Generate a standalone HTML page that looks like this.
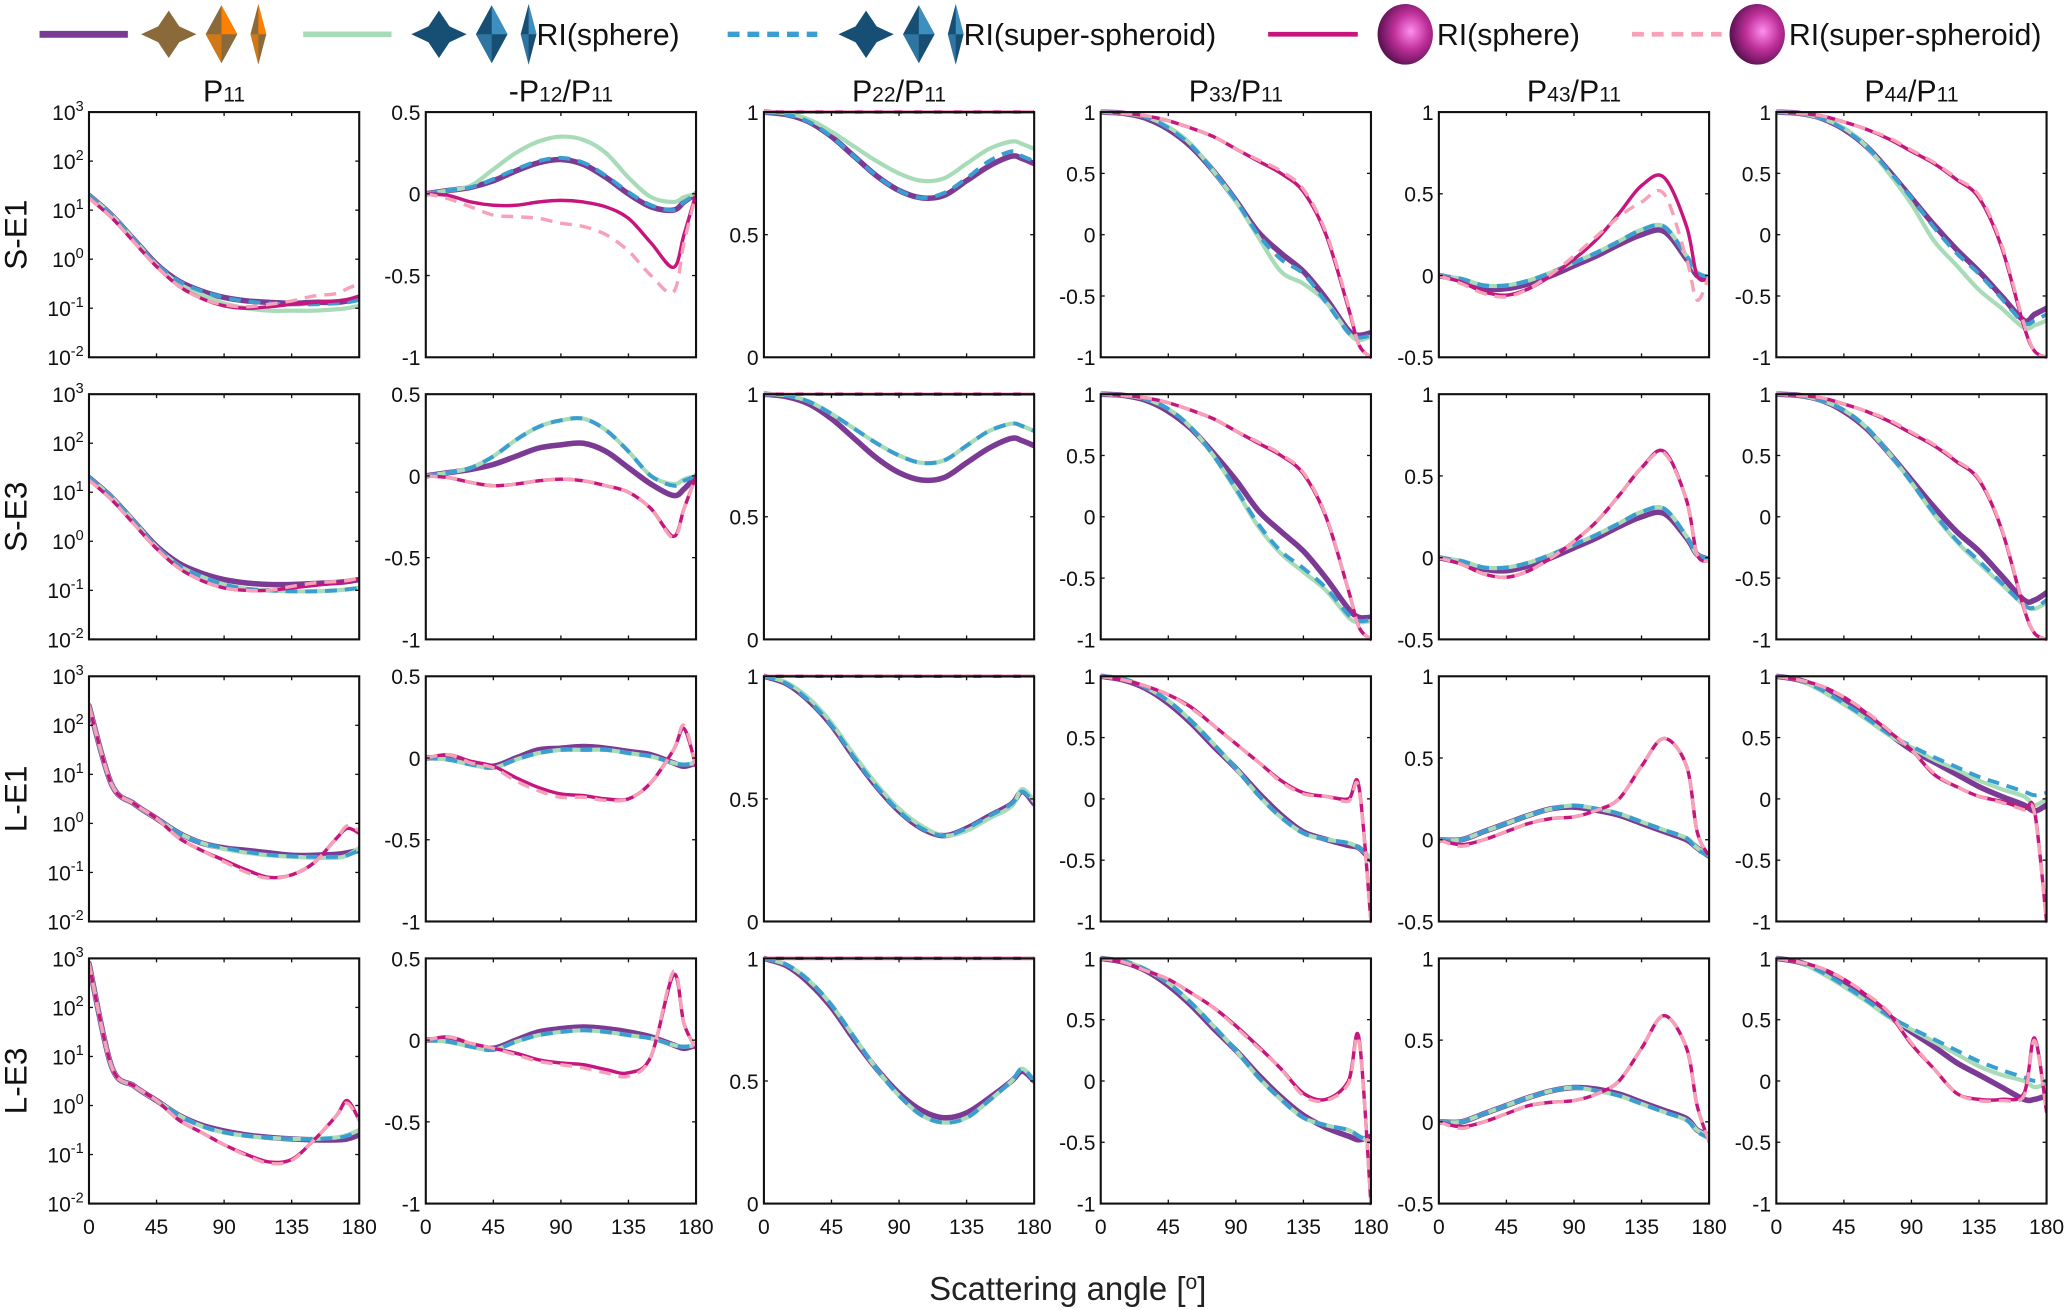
<!DOCTYPE html>
<html><head><meta charset="utf-8"><style>
html,body{margin:0;padding:0;background:#fff;}
svg{display:block;font-family:"Liberation Sans",sans-serif;}
</style></head><body>
<svg id="chart" width="2067" height="1310" viewBox="0 0 1568 993.7" xmlns="http://www.w3.org/2000/svg">
<g id="legend"></g>
<g id="panels"></g>
<text x="810" y="986" font-size="25" text-anchor="middle" fill="#222">Scattering angle [<tspan baseline-shift="super" font-size="16">o</tspan>]</text>
</svg>
<script>
const angles=[0,15,30,45,60,75,90,105,120,135,150,165,172,180];
const rowLabels=["S-E1","S-E3","L-E1","L-E3"];
const xTicks=[0,45,90,135,180];
// P11 (log10 values)
const P11_purple=[[1.3,0.9,0.4,-0.1,-0.45,-0.65,-0.78,-0.85,-0.88,-0.9,-0.88,-0.88,-0.85,-0.8],[1.3,0.9,0.4,-0.1,-0.45,-0.65,-0.78,-0.85,-0.88,-0.88,-0.86,-0.84,-0.82,-0.78],[2.4,0.8,0.4,0.1,-0.2,-0.4,-0.5,-0.55,-0.6,-0.65,-0.65,-0.63,-0.6,-0.55],[2.9,0.8,0.4,0.1,-0.2,-0.4,-0.52,-0.6,-0.65,-0.68,-0.7,-0.7,-0.68,-0.6]];
const P11_green=[[1.3,0.9,0.4,-0.12,-0.5,-0.72,-0.9,-1.0,-1.05,-1.05,-1.05,-1.02,-1.0,-0.95],[1.3,0.9,0.4,-0.12,-0.5,-0.72,-0.88,-0.97,-1.0,-1.02,-1.02,-1.0,-0.98,-0.95],[2.4,0.8,0.4,0.1,-0.2,-0.4,-0.52,-0.6,-0.65,-0.68,-0.7,-0.7,-0.65,-0.5],[2.9,0.8,0.4,0.1,-0.2,-0.42,-0.55,-0.62,-0.66,-0.68,-0.68,-0.65,-0.6,-0.5]];
const P11_blue=[[1.3,0.9,0.4,-0.1,-0.45,-0.65,-0.78,-0.86,-0.9,-0.92,-0.92,-0.9,-0.88,-0.83],[1.3,0.9,0.4,-0.12,-0.5,-0.72,-0.88,-0.97,-1.0,-1.02,-1.02,-1.0,-0.98,-0.95],[2.4,0.8,0.4,0.1,-0.2,-0.4,-0.5,-0.58,-0.64,-0.67,-0.68,-0.68,-0.65,-0.55],[2.9,0.8,0.4,0.1,-0.2,-0.42,-0.55,-0.62,-0.66,-0.68,-0.68,-0.66,-0.62,-0.52]];
const P11_magenta=[[1.25,0.85,0.35,-0.15,-0.55,-0.8,-0.95,-1.0,-0.97,-0.92,-0.88,-0.85,-0.82,-0.75],[1.25,0.85,0.35,-0.15,-0.55,-0.8,-0.95,-1.0,-1.0,-0.95,-0.9,-0.85,-0.82,-0.78],[2.4,0.8,0.4,0.1,-0.3,-0.55,-0.75,-0.95,-1.1,-1.05,-0.8,-0.3,-0.1,-0.2],[2.9,0.8,0.4,0.1,-0.3,-0.55,-0.8,-1.0,-1.15,-1.1,-0.7,-0.2,0.1,-0.3]];
const P11_pink=[[1.25,0.85,0.35,-0.15,-0.55,-0.8,-0.93,-0.97,-0.92,-0.85,-0.75,-0.7,-0.6,-0.5],[1.25,0.85,0.35,-0.15,-0.55,-0.8,-0.95,-1.0,-1.0,-0.92,-0.85,-0.82,-0.8,-0.75],[2.4,0.8,0.4,0.1,-0.3,-0.55,-0.78,-1.0,-1.12,-1.05,-0.8,-0.3,-0.05,-0.15],[2.9,0.8,0.4,0.1,-0.3,-0.55,-0.8,-1.02,-1.18,-1.12,-0.7,-0.2,0.05,-0.3]];
// -P12/P11
const P12_purple=[[0,0.02,0.04,0.08,0.14,0.19,0.21,0.18,0.1,0,-0.08,-0.1,-0.05,0],[0,0.02,0.04,0.07,0.12,0.17,0.19,0.2,0.15,0.05,-0.05,-0.12,-0.08,0],[0,0,-0.03,-0.05,0,0.05,0.06,0.07,0.06,0.04,0.02,-0.03,-0.05,-0.03],[0,0,-0.03,-0.05,0,0.05,0.07,0.08,0.07,0.05,0.02,-0.03,-0.05,-0.03]];
const P12_green=[[0,0.02,0.05,0.15,0.25,0.32,0.35,0.33,0.25,0.1,-0.02,-0.05,-0.02,0],[0,0.02,0.05,0.12,0.22,0.3,0.34,0.35,0.28,0.15,0,-0.05,-0.02,0],[0,-0.01,-0.04,-0.06,-0.01,0.03,0.05,0.05,0.05,0.03,0.01,-0.03,-0.04,-0.03],[0,-0.01,-0.04,-0.06,-0.01,0.03,0.05,0.06,0.05,0.03,0.01,-0.03,-0.04,-0.03]];
const P12_blue=[[0,0.02,0.04,0.09,0.15,0.2,0.22,0.19,0.11,0.01,-0.07,-0.1,-0.05,0],[0,0.02,0.05,0.12,0.22,0.3,0.34,0.35,0.28,0.15,0,-0.06,-0.03,0],[0,-0.01,-0.04,-0.06,-0.01,0.03,0.05,0.05,0.05,0.03,0.01,-0.03,-0.04,-0.03],[0,-0.01,-0.04,-0.06,-0.01,0.03,0.05,0.06,0.05,0.03,0.01,-0.03,-0.04,-0.03]];
const P12_magenta=[[0,-0.01,-0.05,-0.07,-0.07,-0.05,-0.04,-0.05,-0.08,-0.15,-0.3,-0.45,-0.25,0],[0,-0.01,-0.04,-0.06,-0.05,-0.03,-0.02,-0.03,-0.06,-0.1,-0.2,-0.37,-0.2,0],[0,0.02,-0.02,-0.05,-0.12,-0.18,-0.22,-0.23,-0.25,-0.25,-0.15,0.05,0.18,-0.05],[0,0.02,-0.02,-0.05,-0.08,-0.12,-0.14,-0.15,-0.18,-0.2,-0.1,0.4,0.1,-0.05]];
const P12_pink=[[0,-0.03,-0.08,-0.13,-0.14,-0.15,-0.18,-0.2,-0.25,-0.35,-0.5,-0.6,-0.3,0],[0,-0.01,-0.04,-0.06,-0.05,-0.03,-0.02,-0.03,-0.06,-0.1,-0.2,-0.38,-0.2,0],[0,0.02,-0.03,-0.06,-0.14,-0.2,-0.24,-0.24,-0.26,-0.25,-0.15,0.05,0.2,-0.05],[0,0.02,-0.02,-0.05,-0.09,-0.13,-0.15,-0.17,-0.2,-0.22,-0.1,0.42,0.1,-0.05]];
// P22/P11
const P22_purple=[[1,0.99,0.96,0.9,0.82,0.74,0.68,0.65,0.66,0.72,0.78,0.82,0.81,0.79],[1,0.99,0.96,0.9,0.82,0.74,0.68,0.65,0.66,0.72,0.78,0.82,0.81,0.79],[1,0.97,0.9,0.8,0.67,0.55,0.45,0.38,0.35,0.38,0.43,0.48,0.53,0.48],[1,0.97,0.9,0.8,0.67,0.55,0.45,0.38,0.35,0.37,0.43,0.5,0.54,0.5]];
const P22_green=[[1,0.995,0.97,0.92,0.86,0.8,0.75,0.72,0.73,0.79,0.85,0.88,0.87,0.85],[1,0.995,0.97,0.92,0.86,0.8,0.75,0.72,0.73,0.79,0.85,0.88,0.87,0.85],[1,0.975,0.91,0.81,0.68,0.56,0.46,0.39,0.35,0.37,0.42,0.47,0.54,0.49],[1,0.975,0.91,0.81,0.68,0.55,0.44,0.36,0.33,0.35,0.42,0.5,0.55,0.5]];
const P22_blue=[[1,0.99,0.96,0.9,0.82,0.74,0.68,0.65,0.67,0.73,0.8,0.84,0.82,0.8],[1,0.995,0.97,0.92,0.86,0.8,0.75,0.72,0.73,0.79,0.85,0.88,0.87,0.85],[1,0.97,0.9,0.8,0.67,0.55,0.45,0.38,0.35,0.38,0.43,0.48,0.53,0.48],[1,0.975,0.91,0.81,0.68,0.55,0.44,0.36,0.33,0.35,0.42,0.5,0.55,0.5]];
const P22_magenta=[[1,1,1,1,1,1,1,1,1,1,1,1,1,1],[1,1,1,1,1,1,1,1,1,1,1,1,1,1],[1,1,1,1,1,1,1,1,1,1,1,1,1,1],[1,1,1,1,1,1,1,1,1,1,1,1,1,1]];
const P22_pink=[[1,1,1,1,1,1,1,1,1,1,1,1,1,1],[1,1,1,1,1,1,1,1,1,1,1,1,1,1],[1,1,1,1,1,1,1,1,1,1,1,1,1,1],[1,1,1,1,1,1,1,1,1,1,1,1,1,1]];
// P33/P11
const P33_purple=[[1,0.99,0.95,0.86,0.72,0.52,0.28,0.02,-0.15,-0.3,-0.52,-0.78,-0.82,-0.8],[1,0.99,0.95,0.86,0.72,0.52,0.3,0.05,-0.12,-0.28,-0.5,-0.75,-0.82,-0.82],[1,0.97,0.9,0.78,0.62,0.43,0.25,0.05,-0.13,-0.27,-0.33,-0.38,-0.4,-0.5],[1,0.97,0.9,0.78,0.62,0.43,0.25,0.05,-0.13,-0.28,-0.38,-0.45,-0.48,-0.45]];
const P33_green=[[1,0.99,0.96,0.88,0.74,0.52,0.27,-0.02,-0.3,-0.4,-0.55,-0.8,-0.86,-0.83],[1,0.99,0.96,0.88,0.73,0.5,0.22,-0.08,-0.3,-0.45,-0.6,-0.82,-0.86,-0.85],[1,0.98,0.91,0.8,0.64,0.45,0.25,0.03,-0.15,-0.28,-0.33,-0.36,-0.4,-0.48],[1,0.98,0.91,0.8,0.64,0.45,0.25,0.03,-0.15,-0.3,-0.36,-0.4,-0.45,-0.5]];
const P33_blue=[[1,0.99,0.96,0.87,0.73,0.52,0.28,0.0,-0.2,-0.32,-0.55,-0.8,-0.84,-0.82],[1,0.99,0.96,0.88,0.73,0.5,0.23,-0.06,-0.28,-0.42,-0.58,-0.8,-0.85,-0.84],[1,0.98,0.91,0.8,0.64,0.45,0.25,0.03,-0.15,-0.28,-0.33,-0.36,-0.4,-0.48],[1,0.98,0.91,0.8,0.64,0.45,0.25,0.03,-0.15,-0.3,-0.36,-0.4,-0.45,-0.5]];
const P33_magenta=[[1,0.99,0.97,0.93,0.87,0.8,0.7,0.6,0.5,0.35,0.0,-0.6,-0.9,-1],[1,0.99,0.97,0.93,0.87,0.8,0.7,0.6,0.5,0.35,0.0,-0.6,-0.9,-1],[1,0.97,0.92,0.85,0.75,0.6,0.45,0.3,0.15,0.05,0.02,0.0,0.1,-1],[1,0.97,0.9,0.83,0.72,0.6,0.45,0.28,0.1,-0.1,-0.15,0.0,0.35,-1]];
const P33_pink=[[1,0.99,0.97,0.93,0.87,0.8,0.7,0.61,0.52,0.37,0.02,-0.58,-0.9,-1],[1,0.99,0.97,0.93,0.87,0.8,0.7,0.61,0.51,0.36,0.01,-0.6,-0.9,-1],[1,0.97,0.92,0.85,0.74,0.6,0.45,0.3,0.14,0.04,0.02,-0.02,0.08,-1],[1,0.97,0.9,0.83,0.72,0.6,0.44,0.27,0.1,-0.12,-0.16,-0.02,0.33,-1]];
// P43/P11
const P43_purple=[[0,-0.03,-0.08,-0.08,-0.05,0,0.06,0.12,0.19,0.25,0.27,0.1,0,-0.01],[0,-0.03,-0.07,-0.08,-0.05,0,0.06,0.12,0.19,0.25,0.27,0.12,0.02,-0.01],[0,0,0.05,0.1,0.15,0.19,0.2,0.18,0.15,0.1,0.05,0,-0.05,-0.1],[0,0,0.05,0.1,0.15,0.19,0.21,0.2,0.17,0.12,0.07,0.02,-0.05,-0.08]];
const P43_green=[[0,-0.02,-0.06,-0.06,-0.03,0.02,0.08,0.14,0.21,0.28,0.3,0.12,0.02,-0.01],[0,-0.02,-0.06,-0.06,-0.03,0.02,0.08,0.14,0.21,0.28,0.3,0.13,0.02,-0.01],[0,0,0.05,0.1,0.15,0.19,0.21,0.19,0.16,0.11,0.06,0.01,-0.05,-0.09],[0,0,0.05,0.1,0.15,0.19,0.21,0.19,0.16,0.11,0.06,0.01,-0.05,-0.09]];
const P43_blue=[[0,-0.02,-0.06,-0.06,-0.03,0.02,0.08,0.14,0.21,0.28,0.3,0.12,0.02,-0.01],[0,-0.02,-0.06,-0.06,-0.03,0.02,0.08,0.14,0.21,0.28,0.3,0.13,0.02,-0.01],[0,0,0.05,0.1,0.15,0.19,0.21,0.19,0.16,0.11,0.06,0.01,-0.06,-0.1],[0,0,0.05,0.1,0.15,0.19,0.21,0.19,0.16,0.11,0.06,0.01,-0.06,-0.1]];
const P43_magenta=[[0,-0.04,-0.1,-0.12,-0.08,0,0.1,0.22,0.38,0.55,0.6,0.3,0,-0.02],[0,-0.04,-0.1,-0.12,-0.08,0,0.1,0.22,0.38,0.55,0.65,0.35,0.02,-0.02],[0,-0.03,0,0.05,0.1,0.13,0.14,0.18,0.25,0.45,0.62,0.45,0.05,-0.1],[0,-0.03,0,0.05,0.1,0.12,0.13,0.17,0.25,0.45,0.65,0.45,0.1,-0.12]];
const P43_pink=[[0,-0.05,-0.11,-0.13,-0.08,0.01,0.12,0.24,0.36,0.45,0.5,0.1,-0.15,0],[0,-0.04,-0.1,-0.12,-0.08,0,0.1,0.22,0.38,0.55,0.64,0.35,0.02,-0.02],[0,-0.04,0,0.05,0.1,0.13,0.14,0.18,0.25,0.45,0.62,0.45,0.05,-0.1],[0,-0.04,0,0.05,0.1,0.12,0.13,0.17,0.25,0.45,0.65,0.45,0.1,-0.12]];
// P44/P11
const P44_purple=[[1,0.99,0.95,0.86,0.72,0.52,0.3,0.08,-0.12,-0.3,-0.5,-0.7,-0.65,-0.6],[1,0.99,0.95,0.86,0.72,0.52,0.3,0.08,-0.12,-0.28,-0.48,-0.68,-0.68,-0.62],[1,0.97,0.9,0.8,0.67,0.53,0.4,0.3,0.2,0.1,0.02,-0.05,-0.1,-0.05],[1,0.97,0.9,0.8,0.67,0.53,0.4,0.28,0.15,0.05,-0.05,-0.15,-0.15,-0.12]];
const P44_green=[[1,0.99,0.95,0.87,0.72,0.5,0.25,-0.05,-0.25,-0.45,-0.6,-0.76,-0.74,-0.7],[1,0.99,0.95,0.87,0.73,0.52,0.28,0.02,-0.2,-0.38,-0.55,-0.72,-0.75,-0.7],[1,0.97,0.88,0.77,0.65,0.52,0.42,0.32,0.24,0.15,0.08,0.02,-0.05,0],[1,0.97,0.88,0.77,0.65,0.52,0.42,0.32,0.22,0.12,0.05,0,-0.05,-0.02]];
const P44_blue=[[1,0.99,0.95,0.86,0.72,0.52,0.3,0.06,-0.15,-0.32,-0.52,-0.72,-0.7,-0.65],[1,0.99,0.95,0.87,0.73,0.52,0.28,0.03,-0.19,-0.36,-0.54,-0.72,-0.74,-0.68],[1,0.97,0.89,0.78,0.66,0.53,0.43,0.34,0.26,0.18,0.12,0.06,0.03,0.05],[1,0.97,0.89,0.78,0.66,0.53,0.43,0.34,0.25,0.16,0.09,0.03,0,0]];
const P44_magenta=[[1,0.99,0.97,0.92,0.86,0.78,0.68,0.58,0.45,0.3,-0.1,-0.75,-0.95,-1],[1,0.99,0.97,0.92,0.86,0.78,0.68,0.58,0.45,0.3,-0.1,-0.75,-0.95,-1],[1,0.97,0.92,0.83,0.7,0.55,0.4,0.2,0.1,0.02,-0.02,-0.08,-0.1,-1],[1,0.97,0.92,0.83,0.7,0.55,0.3,0.1,-0.1,-0.15,-0.15,-0.1,0.35,-0.25]];
const P44_pink=[[1,0.99,0.97,0.92,0.86,0.79,0.69,0.59,0.46,0.32,-0.08,-0.73,-0.95,-1],[1,0.99,0.97,0.92,0.86,0.79,0.69,0.59,0.46,0.31,-0.09,-0.74,-0.95,-1],[1,0.97,0.92,0.83,0.71,0.56,0.4,0.21,0.1,0.02,-0.03,-0.09,-0.12,-1],[1,0.97,0.92,0.83,0.71,0.56,0.31,0.1,-0.1,-0.16,-0.16,-0.12,0.33,-0.25]];

const NS="http://www.w3.org/2000/svg";
function mk(tag,attrs,parent){const e=document.createElementNS(NS,tag);for(const k in attrs)e.setAttribute(k,attrs[k]);if(parent)parent.appendChild(e);return e;}
const colX=[67.5,323,579.5,835,1091.5,1347.5], PW=205;
const rowY=[85,299,513,727], PH=186;
const columns=[
 {title:["P","11",""],min:-2,max:3,log:true,ticks:[-2,-1,0,1,2,3],series:[P11_purple,P11_green,P11_blue,P11_magenta,P11_pink]},
 {title:["-P","12","/P","11"],min:-1,max:0.5,ticks:[-1,-0.5,0,0.5],series:[P12_purple,P12_green,P12_blue,P12_magenta,P12_pink]},
 {title:["P","22","/P","11"],min:0,max:1,ticks:[0,0.5,1],series:[P22_purple,P22_green,P22_blue,P22_magenta,P22_pink]},
 {title:["P","33","/P","11"],min:-1,max:1,ticks:[-1,-0.5,0,0.5,1],series:[P33_purple,P33_green,P33_blue,P33_magenta,P33_pink]},
 {title:["P","43","/P","11"],min:-0.5,max:1,ticks:[-0.5,0,0.5,1],series:[P43_purple,P43_green,P43_blue,P43_magenta,P43_pink]},
 {title:["P","44","/P","11"],min:-1,max:1,ticks:[-1,-0.5,0,0.5,1],series:[P44_purple,P44_green,P44_blue,P44_magenta,P44_pink]}
];
const styles=[
 {name:"nonspherical",stroke:"#7b3a93",w:4.2,dash:""},
 {name:"ri-sphere-dust",stroke:"#a8dcb8",w:3.2,dash:""},
 {name:"ri-superspheroid-dust",stroke:"#3a9fd0",w:3,dash:"9 6"},
 {name:"ri-sphere-pink",stroke:"#c6157f",w:2.6,dash:""},
 {name:"ri-superspheroid-pink",stroke:"#f7a1b8",w:2.6,dash:"9 6"}
];
function fmt(v){return String(v);}
function path(pts){let d="M"+pts[0][0].toFixed(2)+","+pts[0][1].toFixed(2);
 for(let i=0;i<pts.length-1;i++){const p0=pts[Math.max(0,i-1)],p1=pts[i],p2=pts[i+1],p3=pts[Math.min(pts.length-1,i+2)];
  const c1=[p1[0]+(p2[0]-p0[0])/6,p1[1]+(p2[1]-p0[1])/6],c2=[p2[0]-(p3[0]-p1[0])/6,p2[1]-(p3[1]-p1[1])/6];
  d+=" C"+c1[0].toFixed(2)+","+c1[1].toFixed(2)+" "+c2[0].toFixed(2)+","+c2[1].toFixed(2)+" "+p2[0].toFixed(2)+","+p2[1].toFixed(2);}
 return d;}
const panels=document.getElementById('panels');
const defs=mk('defs',{},panels);
columns.forEach((col,c)=>{
 const x0=colX[c];
 const t=mk('text',{x:x0+PW/2,y:77,'font-size':23,'text-anchor':'middle',fill:'#111'},panels);
 
 
 col.title.forEach((s,i)=>{const ts=mk('tspan',{},t);if(i%2===1){ts.setAttribute('font-size',16);}ts.textContent=s;});
 rowLabels.forEach((rl,r)=>{
  const y0=rowY[r];
  const g=mk('g',{},panels);
  
  
  const xs=a=>x0+a/180*PW;
  const ys=v=>y0+PH-(v-col.min)/(col.max-col.min)*PH;
  const cid='clip'+c+'_'+r;
  const cp=mk('clipPath',{id:cid},defs);mk('rect',{x:x0,y:y0-2,width:PW,height:PH+4},cp);
  const lg=mk('g',{'clip-path':'url(#'+cid+')'},g);
  col.series.forEach((ser,s)=>{
   const vals=ser[r];const pts=angles.map((a,i)=>[xs(a),ys(vals[i])]);
   const st=styles[s];
   const p=mk('path',{d:path(pts),fill:'none',stroke:st.stroke,'stroke-width':st.w,'stroke-linejoin':'round','stroke-linecap':st.dash?'butt':'round'},lg);
   if(st.dash)p.setAttribute('stroke-dasharray',st.dash);
   
   
  });
  const fr=mk('rect',{x:x0,y:y0,width:PW,height:PH,fill:'none',stroke:'#111','stroke-width':1.6},g);
  
  
  xTicks.forEach(v=>{const X=xs(v);mk('line',{x1:X,x2:X,y1:y0+PH,y2:y0+PH-3,stroke:'#111','stroke-width':1},g);mk('line',{x1:X,x2:X,y1:y0,y2:y0+3,stroke:'#111','stroke-width':1},g);});
  if(r===3){xTicks.forEach(v=>{const tl=mk('text',{x:xs(v),y:y0+PH+23,'font-size':16,'text-anchor':'middle',fill:'#111'},g);tl.textContent=fmt(v);});}
  col.ticks.forEach(v=>{const Y=ys(v);mk('line',{x1:x0,x2:x0+3,y1:Y,y2:Y,stroke:'#111','stroke-width':1},g);mk('line',{x1:x0+PW,x2:x0+PW-3,y1:Y,y2:Y,stroke:'#111','stroke-width':1},g);
   const tl=mk('text',{x:x0-4,y:Y+6,'font-size':16,'text-anchor':'end',fill:'#111'},g);
   
   
   if(col.log){const a=mk('tspan',{},tl);a.textContent='10';const b=mk('tspan',{'font-size':11,dy:-7},tl);b.textContent=String(v);}
   else tl.textContent=fmt(v);});
  if(c===0){const rlab=mk('text',{x:0,y:0,'font-size':24,'text-anchor':'middle',fill:'#111',transform:'translate(20,'+(y0+PH/2)+') rotate(-90)'},panels);
   
   
   rlab.textContent=rl;}
 });
});
// legend
const leg=document.getElementById('legend');
function gem(g,cx,cy,h,w,c1,c2){mk('polygon',{points:`${cx},${cy-h} ${cx+w},${cy} ${cx},${cy+h} ${cx-w},${cy}`,fill:c1},g);mk('polygon',{points:`${cx},${cy-h} ${cx+w},${cy} ${cx},${cy}`,fill:c2},g);mk('polygon',{points:`${cx},${cy+h} ${cx-w},${cy} ${cx},${cy}`,fill:c2,opacity:0.6},g);}
function icons(x,dark,light){const g=mk('g',{},leg);
 const cy=26;mk('polygon',{points:`${x},${cy-18} ${x+8},${cy-6} ${x+21},${cy} ${x+8},${cy+6} ${x},${cy+18} ${x-8},${cy+6} ${x-21},${cy} ${x-8},${cy-6}`,fill:dark},g);
 gem(g,x+40,cy,22,12,dark,light);gem(g,x+68,cy,23,6,dark,light);}
function line(x1,x2,st,name){const l=mk('line',{x1:x1,x2:x2,y1:26,y2:26,stroke:st.stroke,'stroke-width':st.w+1},leg);if(st.dash)l.setAttribute('stroke-dasharray',st.dash);
 
 }
function ltext(x,s){const t=mk('text',{x:x,y:34,'font-size':23,fill:'#111'},leg);t.textContent=s;}
function sphere(cx){const g=mk('g',{},leg);
 const gr=mk('radialGradient',{id:'sg'+cx,cx:'0.6',cy:'0.45',r:'0.6'},defs);mk('stop',{offset:'0','stop-color':'#ff8ff0'},gr);mk('stop',{offset:'0.5','stop-color':'#c0309a'},gr);mk('stop',{offset:'1','stop-color':'#5a1050'},gr);
 mk('ellipse',{cx:cx,cy:26,rx:21,ry:23,fill:'url(#sg'+cx+')'},g);}
line(30,97,styles[0],'legend-line-nonspherical');
icons(128,'#8a6a3a','#ff8000');
line(230,297,styles[1],'legend-line-ri-sphere-dust');
icons(333,'#174f74','#3d8fbf');ltext(407,'RI(sphere)');
line(552,620,styles[2],'legend-line-ri-superspheroid-dust');
icons(657,'#174f74','#3d8fbf');ltext(731,'RI(super-spheroid)');
line(962,1030,styles[3],'legend-line-ri-sphere-pink');
sphere(1066);ltext(1090,'RI(sphere)');
line(1238,1306,styles[4],'legend-line-ri-superspheroid-pink');
sphere(1333);ltext(1357,'RI(super-spheroid)');
</script>
</body></html>
